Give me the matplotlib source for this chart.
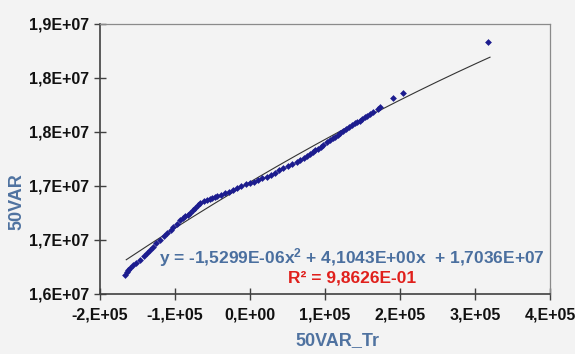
import numpy as np
import matplotlib
matplotlib.use("Agg")
import matplotlib.pyplot as plt
from matplotlib.ticker import FixedLocator, FixedFormatter

# ---- data ----
x_vals = [-1.667e5, -1.64e5, -1.627e5, -1.60e5, -1.56e5, -1.52e5, -1.467e5, -1.42e5,
          -1.373e5, -1.33e5, -1.293e5, -1.25e5, -1.20e5, -1.15e5, -1.107e5, -1.06e5,
          -1.027e5, -0.98e5, -0.933e5, -0.90e5, -0.867e5, -0.83e5, -0.80e5, -0.76e5,
          -0.733e5, -0.70e5, -0.667e5, -0.62e5, -0.573e5, -0.54e5, -0.507e5, -0.47e5,
          -0.44e5, -0.39e5, -0.333e5, -0.28e5, -0.227e5, -0.17e5, -0.12e5, -0.06e5,
          0.0, 0.05e5, 0.107e5, 0.16e5, 0.227e5, 0.28e5, 0.333e5, 0.39e5, 0.44e5,
          0.50e5, 0.56e5, 0.62e5, 0.667e5, 0.72e5, 0.76e5, 0.80e5, 0.84e5, 0.87e5,
          0.907e5, 0.94e5, 0.973e5, 1.02e5, 1.067e5, 1.10e5, 1.133e5, 1.17e5, 1.20e5,
          1.24e5, 1.28e5, 1.32e5, 1.36e5, 1.40e5, 1.427e5, 1.46e5, 1.493e5, 1.53e5,
          1.56e5, 1.60e5, 1.64e5, 1.70e5, 1.733e5, 1.907e5, 2.04e5, 3.173e5]
y_vals = [1.6176e7, 1.6200e7, 1.6222e7, 1.6245e7, 1.6269e7, 1.6290e7, 1.6315e7, 1.6350e7,
          1.6380e7, 1.6410e7, 1.6435e7, 1.6470e7, 1.6500e7, 1.6535e7, 1.6565e7, 1.6595e7,
          1.6620e7, 1.6650e7, 1.6685e7, 1.6705e7, 1.6722e7, 1.6735e7, 1.6750e7, 1.6775e7,
          1.6796e7, 1.6820e7, 1.6843e7, 1.6858e7, 1.6870e7, 1.6880e7, 1.6889e7, 1.6898e7,
          1.6907e7, 1.6920e7, 1.6935e7, 1.6948e7, 1.6963e7, 1.6980e7, 1.7000e7, 1.7015e7,
          1.7028e7, 1.7040e7, 1.7056e7, 1.7070e7, 1.7083e7, 1.7100e7, 1.7120e7, 1.7145e7,
          1.7167e7, 1.7185e7, 1.7204e7, 1.7222e7, 1.7241e7, 1.7260e7, 1.7278e7, 1.7296e7,
          1.7315e7, 1.7330e7, 1.7343e7, 1.7360e7, 1.7380e7, 1.7405e7, 1.7426e7, 1.7440e7,
          1.7454e7, 1.7472e7, 1.7491e7, 1.7510e7, 1.7528e7, 1.7548e7, 1.7565e7, 1.7580e7,
          1.7593e7, 1.7606e7, 1.7620e7, 1.7635e7, 1.7648e7, 1.7665e7, 1.7685e7, 1.7712e7,
          1.7731e7, 1.7815e7, 1.7861e7, 1.8333e7]

trend_coef = [-1.5299e-06, 4.1043e+00, 1.7036e+07]
trend_range = [-1.65e5, 3.2e5]

x_ticks = [-2e5, -1e5, 0, 1e5, 2e5, 3e5, 4e5]
x_tick_labels = ["-2,E+05", "-1,E+05", "0,E+00", "1,E+05", "2,E+05", "3,E+05", "4,E+05"]
y_ticks = [1.60e7, 1.65e7, 1.70e7, 1.75e7, 1.80e7, 1.85e7]
y_tick_labels = ["1,6E+07", "1,7E+07", "1,7E+07", "1,8E+07", "1,8E+07", "1,9E+07"]

eq_text = "y = -1,5299E-06x$^{2}$ + 4,1043E+00x  + 1,7036E+07"
r2_text = "R² = 9,8626E-01"
x_label = "50VAR_Tr"
y_label = "50VAR"

plt.rcParams['font.family'] = ['Liberation Sans', 'DejaVu Sans']
plt.rcParams['mathtext.fontset'] = 'custom'
plt.rcParams['mathtext.rm'] = 'Liberation Sans:bold'
plt.rcParams['mathtext.it'] = 'Liberation Sans:bold'
plt.rcParams['mathtext.bf'] = 'Liberation Sans:bold'

W, H = 575, 354
bg = "#f3f3f3"
fig = plt.figure(figsize=(W / 100, H / 100), dpi=100, facecolor=bg)
ax = fig.add_axes([100 / W, 1 - 294 / H, 450 / W, 270 / H], facecolor=bg)

ax.scatter(x_vals, y_vals, marker='D', s=12, color="#1c1c8e", linewidths=0, zorder=3)

xt = np.linspace(trend_range[0], trend_range[1], 200)
yt = np.polyval(trend_coef, xt)
ax.plot(xt, yt, color="#333333", lw=0.8, zorder=2)

ax.set_xlim(-2e5, 4e5)
ax.set_ylim(1.60e7, 1.85e7)
ax.xaxis.set_major_locator(FixedLocator(x_ticks))
ax.xaxis.set_major_formatter(FixedFormatter(x_tick_labels))
ax.yaxis.set_major_locator(FixedLocator(y_ticks))
ax.yaxis.set_major_formatter(FixedFormatter(y_tick_labels))

ax.tick_params(axis='both', direction='inout', length=8, width=1, color="#404040",
               labelsize=11.5, pad=4)
ax.tick_params(axis='x', pad=6)
for lab in ax.get_xticklabels() + ax.get_yticklabels():
    lab.set_fontweight('bold')
    lab.set_color("#111111")

ax.spines['left'].set_color("#404040")
ax.spines['bottom'].set_color("#404040")
ax.spines['left'].set_linewidth(1.2)
ax.spines['bottom'].set_linewidth(1.2)
ax.spines['top'].set_color("#8a8a8a")
ax.spines['right'].set_color("#8a8a8a")
ax.spines['top'].set_linewidth(0.9)
ax.spines['right'].set_linewidth(0.9)

lab_col = "#4f72a0"
fig.text(17 / W, 1 - 202 / H, y_label, rotation=90, ha='center', va='center',
         fontsize=13, fontweight='bold', color=lab_col)
fig.text(337 / W, 1 - 341 / H, x_label, ha='center', va='center',
         fontsize=13, fontweight='bold', color=lab_col)

fig.text(352 / W, 1 - 258 / H, eq_text, ha='center', va='center',
         fontsize=12.5, fontweight='bold', color="#4a6f9f")
fig.text(352 / W, 1 - 278 / H, r2_text, ha='center', va='center',
         fontsize=12.5, fontweight='bold', color="#e0201c")

fig.savefig("out.png", dpi=100, facecolor=bg)
